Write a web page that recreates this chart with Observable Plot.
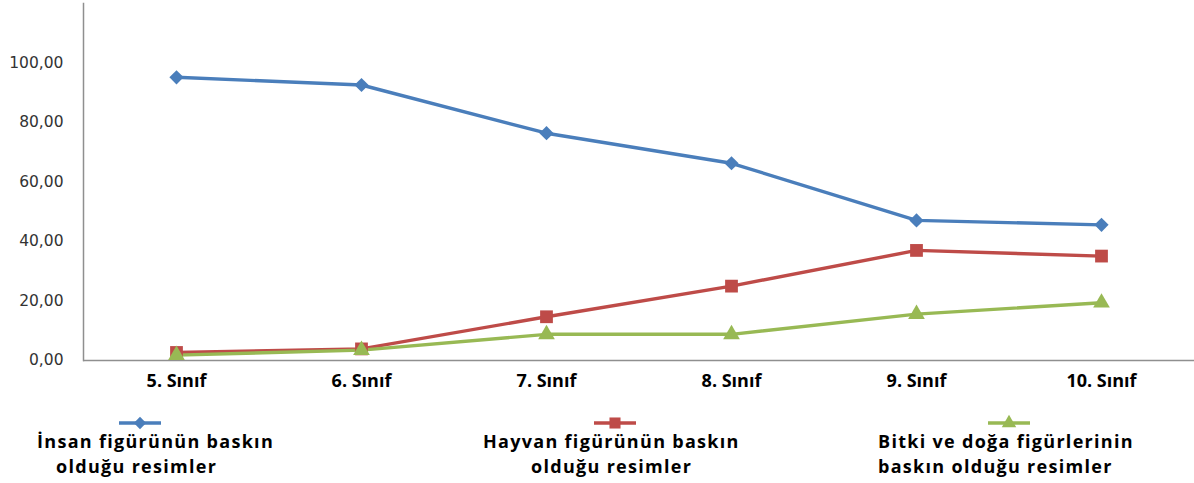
<!DOCTYPE html>
<html><head><meta charset="utf-8">
<script src="https://cdn.jsdelivr.net/npm/d3@7"></script>
<script src="https://cdn.jsdelivr.net/npm/@observablehq/plot@0.6"></script>
<style>
body{margin:0;background:#fff;}
#wrap{position:relative;width:1194px;height:483px;overflow:hidden;font-family:"Open Sans",sans-serif;background:#fff;}
#chart{position:absolute;left:0;top:0;}
.lt{position:absolute;font-weight:700;font-size:18px;color:#000;white-space:nowrap;letter-spacing:1.3px;line-height:20px;}
.sw{position:absolute;}
</style></head>
<body><div id="wrap"><div id="chart"></div><div id="legend"></div></div>
<script>
// ---- data ----
const classes = ["5. Sınıf", "6. Sınıf", "7. Sınıf", "8. Sınıf", "9. Sınıf", "10. Sınıf"];
const insan  = [95.2, 92.6, 76.4, 66.3, 47.1, 45.6];
const hayvan = [2.7, 3.9, 14.7, 25.0, 37.0, 35.1];
const bitki  = [1.8, 3.5, 8.8, 8.8, 15.6, 19.4];
const seriesNames = [
  "İnsan figürünün baskın olduğu resimler",
  "Hayvan figürünün baskın olduğu resimler",
  "Bitki ve doğa figürlerinin baskın olduğu resimler"
];
const legendLines = [
  ["İnsan figürünün baskın", "olduğu resimler"],
  ["Hayvan figürünün baskın", "olduğu resimler"],
  ["Bitki ve doğa figürlerinin", "baskın olduğu resimler"]
];
const yTicks = [0, 20, 40, 60, 80, 100];

// ---- styles ----
const colors = ["#4A7EBB", "#BE4B48", "#98B954"];
const symbols = ["diamond2", "square", "triangle"];
const radii = [6.4, 7.2, 6.2];

const seriesValues = [insan, hayvan, bitki];
const data = classes.flatMap((c, i) => seriesNames.map((s, k) => ({sinif: c, seri: s, v: seriesValues[k][i]})));
const fmt = d => d.toFixed(2).replace(".", ",");

const plot = Plot.plot({
  width: 1194, height: 395,
  marginLeft: 83, marginRight: 0, marginTop: 3, marginBottom: 35,
  style: {fontFamily: "Open Sans", background: "white", overflow: "visible"},
  x: {type: "point", domain: classes, padding: 0.5, label: null},
  y: {domain: [0, 120], label: null},
  color: {domain: seriesNames, range: colors},
  symbol: {domain: seriesNames, range: symbols},
  marks: [
    Plot.axisY({ticks: yTicks, tickSize: 0, tickPadding: 20, tickFormat: fmt, fontSize: 15.5, fontFamily: "DejaVu Sans", fill: "#333", label: null}),
    Plot.axisX({tickSize: 0, tickPadding: 14, fontSize: 18, fontWeight: "bold", fill: "#000", label: null}),
    Plot.ruleY([0], {stroke: "#8f8f8f", strokeWidth: 1.5}),
    Plot.frame({anchor: "left", stroke: "#8f8f8f", strokeWidth: 1.5}),
    Plot.line(data, {x: "sinif", y: "v", z: "seri", stroke: "seri", strokeWidth: 3.4}),
    ...seriesNames.map((s, k) => Plot.dot(data.filter(d => d.seri === s), {x: "sinif", y: "v", symbol: "seri", fill: "seri", stroke: "none", r: radii[k]}))
  ]
});
document.getElementById("chart").appendChild(plot);

// ---- legend (below the SVG) ----
const legend = document.getElementById("legend");
const swX = [119, 594, 988];       // swatch left edges
const swY = 413;
const textPos = [[[37, 431], [56, 456]], [[483, 431], [531, 456]], [[878, 431], [878, 456]]];
seriesNames.forEach((s, k) => {
  const svg = d3.create("svg").attr("class", "sw").attr("width", 44).attr("height", 20)
    .style("left", swX[k] + "px").style("top", swY + "px");
  svg.append("line").attr("x1", 0).attr("x2", 42).attr("y1", 10).attr("y2", 10)
    .attr("stroke", colors[k]).attr("stroke-width", 3.4);
  const symMap = {diamond2: d3.symbolDiamond2, square: d3.symbolSquare, triangle: d3.symbolTriangle};
  svg.append("path").attr("transform", "translate(21,10)")
    .attr("d", d3.symbol(symMap[symbols[k]], Math.PI * radii[k] * radii[k] * 0.75)())
    .attr("fill", colors[k]);
  legend.appendChild(svg.node());
  legendLines[k].forEach((t, j) => {
    const div = document.createElement("div");
    div.className = "lt";
    div.textContent = t;
    div.style.left = textPos[k][j][0] + "px";
    div.style.top = textPos[k][j][1] + "px";
    legend.appendChild(div);
  });
});
</script>
</body></html>
